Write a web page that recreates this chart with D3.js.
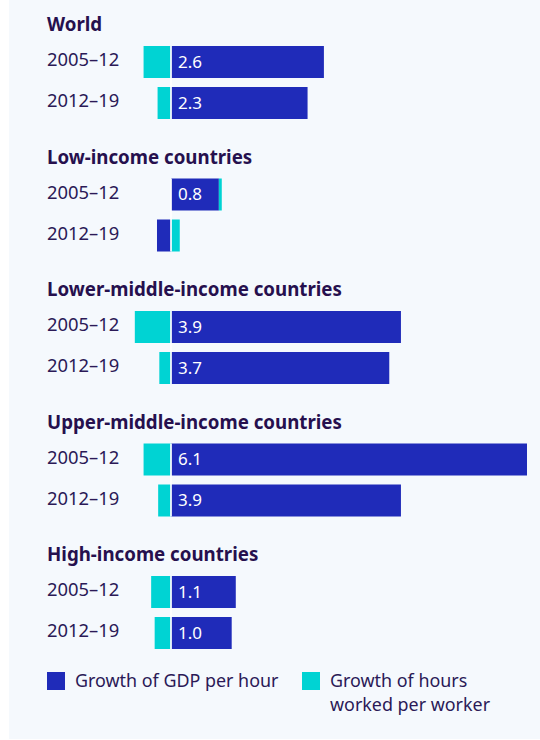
<!DOCTYPE html>
<html><head><meta charset="utf-8">
<script src="https://cdn.jsdelivr.net/npm/d3@7"></script>
<style>
html,body{margin:0;padding:0;background:#fff;}
svg{display:block;font-family:"Noto Sans",sans-serif;}
</style></head><body>
<svg id="c" width="540" height="740"></svg>
<script>
const groups = ["World","Low-income countries","Lower-middle-income countries","Upper-middle-income countries","High-income countries"];
const periods = ["2005–12","2012–19"];
const gdpPerHour = [[2.62,2.34],[0.82,-0.24],[3.94,3.74],[6.1,3.94],[1.11,1.04]];
const hoursPerWorker = [[-0.47,-0.23],[0.05,0.15],[-0.62,-0.2],[-0.47,-0.22],[-0.34,-0.28]];
const legendLabels = [["Growth of GDP per hour"],["Growth of hours","worked per worker"]];

const colGDP = "#1f2bb9", colHours = "#00d3d3", textCol = "#2b1a57", titleCol = "#26104e";
const svg = d3.select("#c");
svg.append("rect").attr("x",9).attr("y",0).attr("width",531).attr("height",739).attr("fill","#f5f9fd");

const x = d3.scaleLinear().domain([0,6.1]).range([171,527]);
const gy = d3.scaleLinear().domain([0,4]).range([46,576]);
const rowPitch = 41, barH = 32;

groups.forEach((g,i)=>{
  const top = gy(i);
  svg.append("text").attr("x",47).attr("y",top-15).attr("fill",titleCol)
    .attr("font-size",18.7).attr("font-weight",700).text(g);
  periods.forEach((p,j)=>{
    const y0 = top + j*rowPitch;
    const gv = gdpPerHour[i][j], hv = hoursPerWorker[i][j];
    svg.append("text").attr("x",47).attr("y",y0+barH/2-2).attr("dy","0.35em")
      .attr("fill",textCol).attr("font-size",18.4).text(p);
    svg.append("rect").attr("x",x(Math.min(0,gv))).attr("y",y0)
      .attr("width",Math.abs(x(gv)-x(0))).attr("height",barH).attr("fill",colGDP);
    const base = (Math.sign(hv)===Math.sign(gv)) ? gv : 0;
    const a = x(base), b = x(base+hv);
    svg.append("rect").attr("x",Math.min(a,b)).attr("y",y0)
      .attr("width",Math.abs(b-a)).attr("height",barH).attr("fill",colHours);
    if (gv>0) {
      svg.append("text").attr("x",x(0)+7).attr("y",y0+barH/2).attr("dy","0.35em")
        .attr("fill","#fff").attr("font-size",17).text(d3.format(".1f")(gv));
    }
  });
  svg.append("rect").attr("x",x(0)-1).attr("y",top).attr("width",2)
    .attr("height",rowPitch+barH).attr("fill","#fff").attr("opacity",0.85);
});

const legX = [47,302], legCols=[colGDP,colHours];
legendLabels.forEach((lines,k)=>{
  svg.append("rect").attr("x",legX[k]).attr("y",672).attr("width",18).attr("height",18).attr("fill",legCols[k]);
  lines.forEach((t,m)=>{
    svg.append("text").attr("x",legX[k]+28).attr("y",681+m*24).attr("dy","0.35em")
      .attr("fill",textCol).attr("font-size",17.9).text(t);
  });
});
</script></body></html>
